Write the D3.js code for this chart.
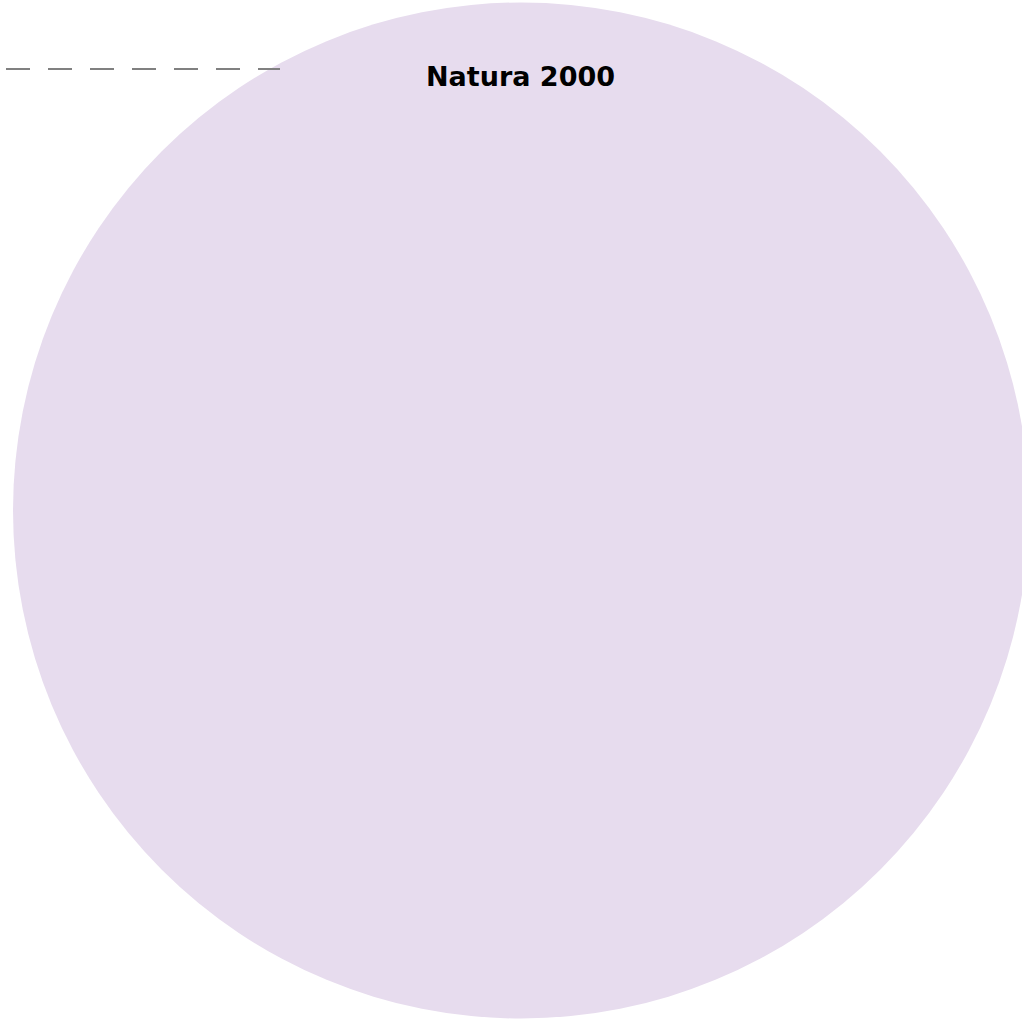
<!DOCTYPE html>
<html>
<head>
<meta charset="utf-8">
<script src="https://cdn.jsdelivr.net/npm/d3@7"></script>
<style>
html,body{margin:0;padding:0;background:#fff;overflow:hidden;}
svg{display:block;}
</style>
</head>
<body>
<svg id="chart" width="1022" height="1019"></svg>
<script>
const categories = ["Natura 2000"];
const values = [100];
const colors = ["#e7dcee"];

const W = 1022, H = 1019;
const svg = d3.select("#chart");

const cx = 521, cy = 510.5, rMax = 508;
const rScale = d3.scaleSqrt().domain([0, d3.max(values)]).range([0, rMax]);

const nodes = categories.map((c, i) => ({name: c, value: values[i], color: colors[i]}));

const g = svg.append("g");
g.selectAll("circle").data(nodes).join("circle")
  .attr("cx", cx).attr("cy", cy)
  .attr("r", d => rScale(d.value))
  .attr("fill", d => d.color);

// dashed annotation line
g.append("line")
  .attr("x1", 6).attr("x2", 280)
  .attr("y1", 69).attr("y2", 69)
  .attr("stroke", "#808080")
  .attr("stroke-width", 2)
  .attr("stroke-dasharray", "24,18");

g.selectAll("text.label").data(nodes).join("text")
  .attr("class", "label")
  .attr("x", 520.5).attr("y", 86)
  .attr("text-anchor", "middle")
  .attr("font-family", "DejaVu Sans, Verdana, sans-serif")
  .attr("font-weight", "bold")
  .attr("font-size", 27)
  .attr("fill", "#000")
  .text(d => d.name);
</script>
</body>
</html>
